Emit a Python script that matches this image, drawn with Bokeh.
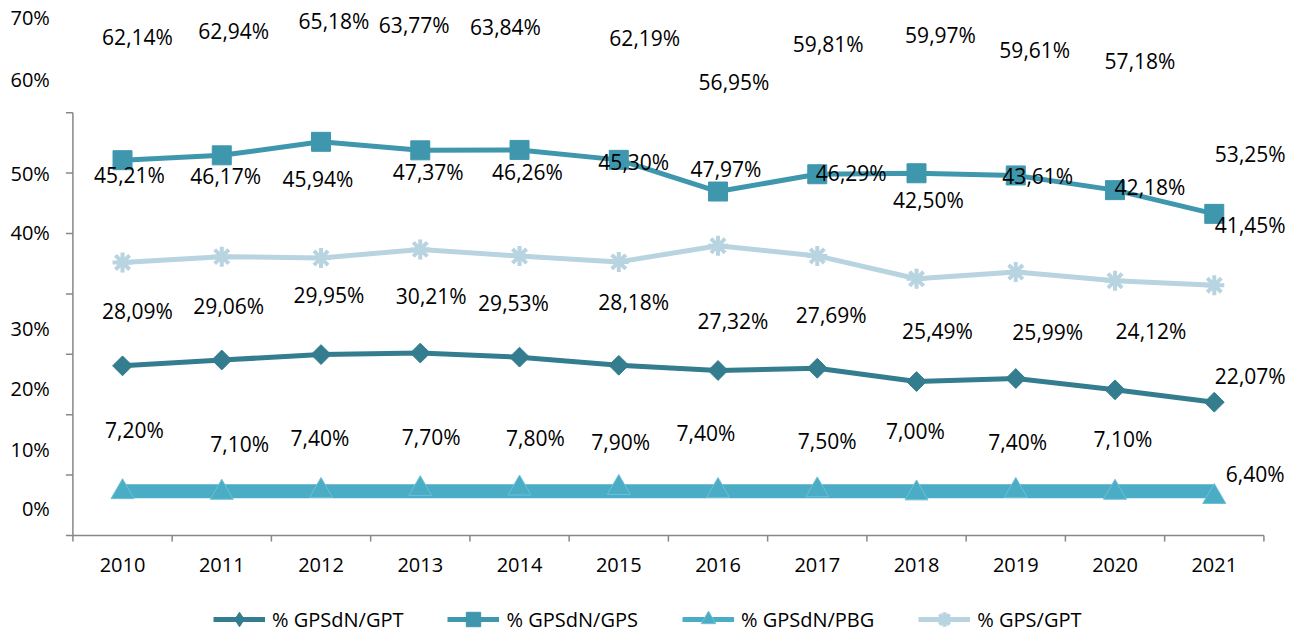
import numpy as np
from bokeh.plotting import figure
from bokeh.models import ColumnDataSource, Range1d, Legend, LegendItem
from bokeh.core.properties import value
from bokeh.embed import file_html
from bokeh.resources import INLINE

# ---------------- data ----------------
years = ["2010", "2011", "2012", "2013", "2014", "2015",
         "2016", "2017", "2018", "2019", "2020", "2021"]
gpsdn_gpt = [28.09, 29.06, 29.95, 30.21, 29.53, 28.18, 27.32, 27.69, 25.49, 25.99, 24.12, 22.07]
gpsdn_gps = [62.14, 62.94, 65.18, 63.77, 63.84, 62.19, 56.95, 59.81, 59.97, 59.61, 57.18, 53.25]
gpsdn_pbg = [7.20, 7.10, 7.40, 7.70, 7.80, 7.90, 7.40, 7.50, 7.00, 7.40, 7.10, 6.40]
gps_gpt = [45.21, 46.17, 45.94, 47.37, 46.26, 45.30, 47.97, 46.29, 42.50, 43.61, 42.18, 41.45]
series_names = ["% GPSdN/GPT", "% GPSdN/GPS", "% GPSdN/PBG", "% GPS/GPT"]
y_ticks = [0, 10, 20, 30, 40, 50, 60, 70]
y_tick_labels = ["0%", "10%", "20%", "30%", "40%", "50%", "60%", "70%"]

# ---------------- layout (as drawn in the reference) ----------------
y_label_shift = [4.4, 4.3, 4.4, 4.2, 10.1, 10.0, 15.5, 15.7]   # label drift above its tick
off_gps_dx = [15, 12, 13, -6, -14, 26, 16, 11, 24, 19, 25, 36]
off_gps_dy = [-121, -122, -119, -123, -121, -120, -108, -128, -136, -123, -127, -58]
off_gpsgpt_dx = [7, 4, -3, 8, 8, 15, 8, 34, 12, 22, 35, 36]
off_gpsgpt_dy = [-85, -79, -77, -75, -82, -98, -75, -81, -77, -94, -92, -58]
off_gpt_dx = [15, 7, 8, 11, -6, 15, 15, 14, 21, 32, 36, 36]
off_gpt_dy = [-53, -52, -58, -55, -52, -61, -47, -51, -49, -45, -57, -24]
off_pbg_dx = [12, 18, -1, 11, 16, 2, -12, 10, -1, 2, 8, 41]
off_pbg_dy = [-60, -47, -51, -50, -48, -44, -56, -47, -60, -47, -52, -21]
DY_FIX = -2

C_GPT = "#347D8F"
C_GPS = "#3F97AE"
C_PBG = "#4BACC6"
C_GPSGPT = "#B7D4E0"
GREY = "#878787"
FONT = "Open Sans"

x = list(range(len(years)))

W, H = 1296, 633
AXIS_X_PX = 72.4      # left end of the x axis, pixels
AXIS_Y_PX = 535       # the x axis line, pixels from top
px_per_cat = 99.25
px_per_pct = 6.04
x0 = -0.5 - AXIS_X_PX / px_per_cat
y0 = -(H - AXIS_Y_PX) / px_per_pct

p = figure(width=W, height=H, output_backend="svg", toolbar_location=None,
           x_range=Range1d(x0, x0 + W / px_per_cat),
           y_range=Range1d(y0, y0 + H / px_per_pct),
           x_axis_type=None, y_axis_type=None,
           min_border_left=0, min_border_right=0, min_border_top=0,
           min_border_bottom=0)
p.outline_line_color = None
p.background_fill_color = "white"
p.border_fill_color = "white"

ax_x = -0.5
ax_x_end = len(years) - 0.5

# ---------------- y axis (line, ticks, labels) ----------------
ytick_len = 7 / px_per_cat
p.segment(x0=[ax_x], y0=[y_ticks[0]], x1=[ax_x], y1=[y_ticks[-1]],
          line_color=GREY, line_width=1.5)
p.segment(x0=[ax_x - ytick_len] * len(y_ticks), y0=y_ticks,
          x1=[ax_x] * len(y_ticks), y1=y_ticks, line_color=GREY, line_width=1.5)
lab_pos = [t + s for t, s in zip(y_ticks, y_label_shift)]
p.text(x=[ax_x] * len(lab_pos), y=lab_pos, text=y_tick_labels, x_offset=-23,
       text_font=value(FONT), text_font_size="20px", text_color="black",
       text_align="right", text_baseline="middle")

# ---------------- x axis (line, ticks, labels) ----------------
bounds = [i - 0.5 for i in range(len(years) + 1)]
xtick_len = 6 / px_per_pct
p.segment(x0=[ax_x], y0=[0], x1=[ax_x_end], y1=[0], line_color=GREY, line_width=1.5)
p.segment(x0=bounds, y0=[0] * len(bounds), x1=bounds, y1=[-xtick_len] * len(bounds),
          line_color=GREY, line_width=1.5)
p.text(x=x, y=[0] * len(x), text=years, y_offset=29,
       text_font=value(FONT), text_font_size="20px", text_color="black",
       text_align="center", text_baseline="middle")

# ---------------- series ----------------
pbg_level = [float(np.mean(gpsdn_pbg))] * len(x)
r_pbg_thin = p.line(x, pbg_level, line_color=C_PBG, line_width=5)
r_pbg_band = p.line(x, pbg_level, line_color=C_PBG, line_width=14)
r_pbg_mk = p.scatter(x, gpsdn_pbg, marker="triangle", size=23,
                     fill_color=C_PBG, line_color="#6CC0D6", line_width=1)

r_gpt_line = p.line(x, gpsdn_gpt, line_color=C_GPT, line_width=5)
r_gpt_leg = p.scatter(x, gpsdn_gpt, marker="diamond", size=18,
                      fill_color=C_GPT, line_color=C_GPT)
r_gpt_mk = p.scatter(x, gpsdn_gpt, marker="square", angle=np.pi / 4, size=14,
                     fill_color=C_GPT, line_color=C_GPT)

r_gg_line = p.line(x, gps_gpt, line_color=C_GPSGPT, line_width=5)
r_gg_mk = p.scatter(x, gps_gpt, marker="asterisk", size=20,
                    line_color=C_GPSGPT, line_width=4)

r_gps_line = p.line(x, gpsdn_gps, line_color=C_GPS, line_width=5)
r_gps_mk = p.scatter(x, gpsdn_gps, marker="square", size=19,
                     fill_color=C_GPS, line_color=C_GPS)

# ---------------- data labels ----------------
def fmt(v):
    return f"{v:.2f}".replace(".", ",") + "%"

for vals, dx, dy in [(gpsdn_gps, off_gps_dx, off_gps_dy),
                     (gps_gpt, off_gpsgpt_dx, off_gpsgpt_dy),
                     (gpsdn_gpt, off_gpt_dx, off_gpt_dy),
                     (gpsdn_pbg, off_pbg_dx, off_pbg_dy)]:
    src = ColumnDataSource(dict(x=x, y=vals, t=[fmt(v) for v in vals], dx=dx,
                                dy=[d + DY_FIX for d in dy]))
    p.text(x="x", y="y", text="t", x_offset="dx", y_offset="dy", source=src,
           text_font=value(FONT), text_font_size="21px", text_color="black",
           text_align="center", text_baseline="middle")

# ---------------- legend ----------------
legend = Legend(items=[
    LegendItem(label=series_names[0], renderers=[r_gpt_line, r_gpt_leg]),
    LegendItem(label=series_names[1], renderers=[r_gps_line, r_gps_mk]),
    LegendItem(label=series_names[2], renderers=[r_pbg_thin, r_pbg_mk]),
    LegendItem(label=series_names[3], renderers=[r_gg_line, r_gg_mk]),
], orientation="horizontal", location=(213, -4),
    label_text_font=FONT, label_text_font_size="20px", label_text_color="black",
    glyph_width=52, glyph_height=36, label_standoff=7, spacing=44,
    padding=0, margin=0, border_line_color=None, background_fill_alpha=0)
p.add_layout(legend, "center")

open("out.html", "w").write(file_html(p, INLINE))
